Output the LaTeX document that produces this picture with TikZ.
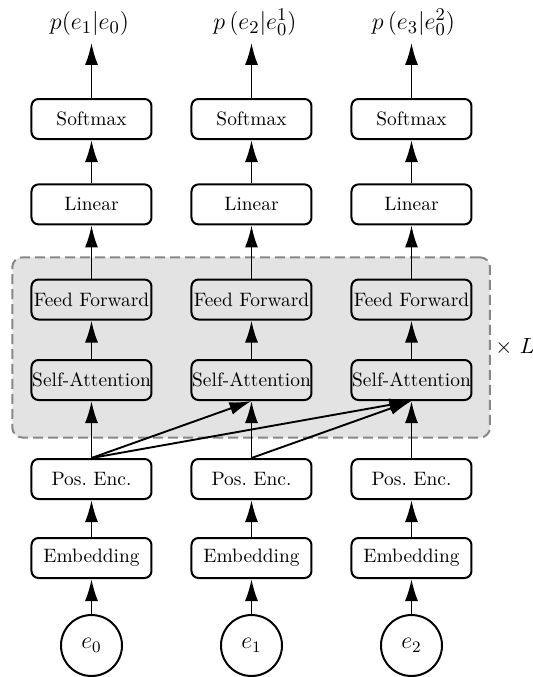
\documentclass[tikz,border=0pt]{standalone}
\usetikzlibrary{arrows.meta}
\definecolor{layerbg}{RGB}{227,227,227}
\definecolor{layeredge}{RGB}{135,135,135}
\begin{document}
\begin{tikzpicture}[x=0.5pt,y=-0.5pt,
  blockbox/.style={draw, line width=1pt, rounded corners=3.5pt,
    minimum width=60pt, minimum height=20pt, inner sep=0pt,
    font=\fontsize{9.7}{11}\selectfont},
  plainbox/.style={blockbox, fill=white},
  token/.style={draw, circle, line width=1pt, fill=white, minimum size=30.5pt,
    inner sep=0pt, font=\fontsize{12}{14}\selectfont},
  outlbl/.style={inner sep=0pt, anchor=base, text depth=6.5pt,
    font=\fontsize{12.4}{14}\selectfont},
  flow/.style={line width=0.95pt, -{Latex[length=11pt,width=6.5pt]}},
  layerbox/.style={draw=layeredge, fill=layerbg, line width=1pt,
    dash pattern=on 5pt off 2.5pt, rounded corners=5pt,
    minimum width=238.85pt, minimum height=90.1pt, inner sep=0pt}
]
\useasboundingbox (0,0) rectangle (533,677);

% repeated decoder layer
\node[layerbox] (layer) at (251.15,347.4) {};
\node[anchor=west, inner sep=0pt, font=\fontsize{11.4}{14}\selectfont]
  (times) at ([xshift=2pt]layer.east) {$\times$ $L$};

% one column per position
\foreach \i/\x/\tok in {1/91.5/e_0, 2/251.5/e_1, 3/411.5/e_2} {
  \node[plainbox] (sm\i)  at (\x,119)   {Softmax};
  \node[plainbox] (lin\i) at (\x,204.4) {Linear};
  \node[blockbox] (ff\i)  at (\x,299.5) {Feed Forward};
  \node[blockbox] (sa\i)  at (\x,380)   {Self-Attention};
  \node[plainbox] (pe\i)  at (\x,479)   {Pos.\ Enc.};
  \node[plainbox] (emb\i) at (\x,558)   {Embedding};
  \node[token]    (tok\i) at (\x,645.5) {$\tok$};
}

% predicted distributions
\node[outlbl] (out1) at (89.5,29.5) {$p(e_1|e_0)$};
\node[outlbl] (out2) at (255,29.5)  {$p\mathinner{\bigl(e_2|e_0^1\bigr)}$};
\node[outlbl] (out3) at (413.5,29.5){$p\mathinner{\bigl(e_3|e_0^2\bigr)}$};

% vertical data flow
\foreach \i in {1,2,3} {
  \draw[flow] (tok\i) -- (emb\i);
  \draw[flow] (emb\i) -- (pe\i);
  \draw[flow] (pe\i) -- (sa\i);
  \draw[flow] (sa\i) -- (ff\i);
  \draw[flow] (ff\i) -- (lin\i);
  \draw[flow] (lin\i) -- (sm\i);
  \draw[flow] (sm\i) -- (sm\i |- out\i.south);
}

% causal attention to earlier positions
\draw[flow] (pe1.north) -- (sa2.south);
\draw[flow] (pe1.north) -- (sa3.south);
\draw[flow] (pe2.north) -- (sa3.south);
\end{tikzpicture}
\end{document}
